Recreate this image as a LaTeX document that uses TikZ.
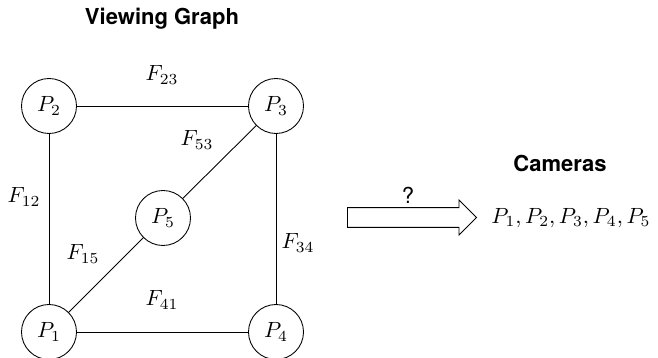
\documentclass[tikz,border=0pt]{standalone}
\usepackage{fontspec}
\setsansfont{TeX Gyre Heros}
\usepackage{tikz}
\usetikzlibrary{positioning,shapes.arrows}

\begin{document}
\begin{tikzpicture}[x=0.4545pt,y=-0.4545pt,
  cam/.style={draw,circle,minimum size=25pt,inner sep=0pt},
  lbl/.style={inner sep=1pt},
  ttl/.style={font=\sffamily\bfseries},
  bigarr/.style={draw,single arrow,single arrow head extend=3.4pt,
                 inner xsep=0pt,inner ysep=4.3pt,minimum height=58.6pt}]
\useasboundingbox (0,0) rectangle (658,358);
% grafo
\node[ttl] (tg) at (162,19) {Viewing Graph};
\node[cam] (p2) at (49,106) {$P_2$};
\node[cam] (p3) at (276,106) {$P_3$};
\node[cam] (p5) at (163,218) {$P_5$};
\node[cam] (p1) at (49,332) {$P_1$};
\node[cam] (p4) at (276,332) {$P_4$};
% archi
\draw (p2) -- (p3); \draw (p2) -- (p1); \draw (p3) -- (p4);
\draw (p1) -- (p4); \draw (p1) -- (p5); \draw (p5) -- (p3);
% etichette
\node[lbl] (f23) at (162,75) {$F_{23}$};
\node[lbl] (f53) at (197,140) {$F_{53}$};
\node[lbl] (f12) at (24,197) {$F_{12}$};
\node[lbl] (f15) at (83,254) {$F_{15}$};
\node[lbl] (f34) at (298,243) {$F_{34}$};
\node[lbl] (f41) at (162,300) {$F_{41}$};
% freccia e camere
\node[bigarr,anchor=tail] (arr) at (347,217.5) {};
\node[font=\sffamily] (q) at (408,195) {?};
\node[ttl] (tc) at (560,163) {Cameras};
\node[anchor=west,inner sep=0pt] (plist) at (491,218) {$P_1, P_2, P_3, P_4, P_5$};
\end{tikzpicture}
\end{document}
